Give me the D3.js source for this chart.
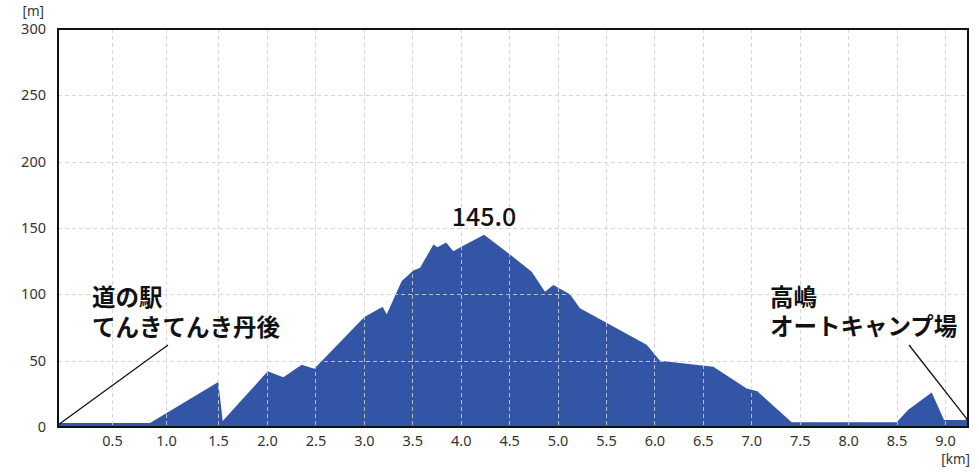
<!DOCTYPE html>
<html><head><meta charset="utf-8">
<script src="https://cdn.jsdelivr.net/npm/d3@7"></script>
<style>
html,body{margin:0;padding:0;background:#fff;}
svg{display:block;}
</style></head>
<body>
<svg id="chart" width="979" height="475"></svg>
<script>
// ---- data ----
const distanceKm = [0, 0.852, 1.503, 1.548, 2.007, 2.168, 2.358, 2.488, 3.005, 3.167, 3.195, 3.236, 3.391, 3.511, 3.580, 3.718, 3.759, 3.849, 3.924, 4.011, 4.241, 4.509, 4.733, 4.870, 4.956, 5.128, 5.231, 5.920, 6.057, 6.608, 6.953, 7.062, 7.417, 8.501, 8.621, 8.863, 8.990, 9.207, 9.238];
const elevationM = [3, 3, 34, 4.5, 42, 37.5, 47, 44, 83, 89.5, 90.5, 85, 110, 118, 120, 137.5, 135.5, 139, 132.5, 136, 145.0, 130, 117, 102, 107, 100, 89.5, 62, 50, 45.5, 29, 27, 3.5, 3.5, 13, 26, 5.3, 5.3, 7.5];
const xTickValues = [0.5, 1.0, 1.5, 2.0, 2.5, 3.0, 3.5, 4.0, 4.5, 5.0, 5.5, 6.0, 6.5, 7.0, 7.5, 8.0, 8.5, 9.0];
const xTickLabels = ["0.5","1.0","1.5","2.0","2.5","3.0","3.5","4.0","4.5","5.0","5.5","6.0","6.5","7.0","7.5","8.0","8.5","9.0"];
const yTickValues = [0, 50, 100, 150, 200, 250, 300];
const yTickLabels = ["0","50","100","150","200","250","300"];
const startLabel = ["道の駅", "てんきてんき丹後"];
const endLabel = ["高嶋", "オートキャンプ場"];
const peakLabel = "145.0";
const xUnit = "[km]", yUnit = "[m]";

// ---- layout ----
const L = 58, R = 968, T = 29, B = 427;
const W = R - L;
const svg = d3.select("#chart");

// x axis of the reference is slightly non-uniform near the start
const x = d3.scaleLinear()
  .domain([0, 0.5, 1.0, 1.5, 2.0, 9.0, d3.max(distanceKm)])
  .range([L, L + W * 0.0593, L + W * 0.1187, L + W * 0.1758, L + W * 0.2297, L + W * 0.9747, R]);
const y = d3.scaleLinear().domain([0, 300]).range([B, T]);

const data = distanceKm.map((d, i) => ({km: d, m: elevationM[i]}));

// area
const area = d3.area().x(d => x(d.km)).y0(y(0)).y1(d => y(d.m));
svg.append("path").datum(data).attr("d", area).attr("fill", "#3355a5");

// grid
const grid = svg.append("g").attr("stroke", "#cfcfcf").attr("stroke-width", 1).attr("stroke-dasharray", "4,3").attr("opacity", 0.85);
grid.selectAll("line.v").data(xTickValues).join("line")
  .attr("x1", d => Math.round(x(d)) + 0.5).attr("x2", d => Math.round(x(d)) + 0.5)
  .attr("y1", T).attr("y2", B);
grid.selectAll("line.h").data(yTickValues.filter(v => v > 0 && v < 300)).join("line")
  .attr("x1", L).attr("x2", R)
  .attr("y1", d => Math.round(y(d)) + 0.5).attr("y2", d => Math.round(y(d)) + 0.5);

// frame
svg.append("rect").attr("x", L).attr("y", T).attr("width", W).attr("height", B - T)
  .attr("fill", "none").attr("stroke", "#111").attr("stroke-width", 2);

// axes
const xAxis = d3.axisBottom(x).tickValues(xTickValues).tickFormat((d, i) => xTickLabels[i]).tickSize(0).tickPadding(9);
const gx = svg.append("g").attr("transform", `translate(0,${B})`).call(xAxis);
gx.select(".domain").remove();
gx.selectAll("text").attr("font-family", "'Noto Sans', sans-serif").attr("font-size", 14.5).attr("fill", "#333");

const yAxis = d3.axisLeft(y).tickValues(yTickValues).tickFormat((d, i) => yTickLabels[i]).tickSize(0).tickPadding(12);
const gy = svg.append("g").attr("transform", `translate(${L},0)`).call(yAxis);
gy.select(".domain").remove();
gy.selectAll("text").attr("font-family", "'Noto Sans', sans-serif").attr("font-size", 14.5).attr("fill", "#333");

svg.append("text").attr("x", 44).attr("y", 16).attr("text-anchor", "end")
  .attr("font-family", "'Noto Sans', sans-serif").attr("font-size", 13.5).attr("fill", "#333").text(yUnit);
svg.append("text").attr("x", 970).attr("y", 464).attr("text-anchor", "end")
  .attr("font-family", "'Noto Sans', sans-serif").attr("font-size", 13.5).attr("fill", "#333").text(xUnit);

// annotations
const jp = "'Noto Sans CJK JP', sans-serif";
const first = data[0], last = data[data.length - 1];
const peak = data.reduce((a, b) => (b.m > a.m ? b : a));

svg.append("line").attr("x1", x(first.km)).attr("y1", y(first.m) + 2).attr("x2", 168).attr("y2", 345)
  .attr("stroke", "#111").attr("stroke-width", 1.3);
svg.append("line").attr("x1", 909).attr("y1", 345).attr("x2", x(last.km) - 1).attr("y2", y(last.m) + 2)
  .attr("stroke", "#111").attr("stroke-width", 1.3);

const t1 = svg.append("text").attr("font-family", jp).attr("font-size", 23.5).attr("font-weight", 700).attr("fill", "#111");
t1.append("tspan").attr("x", 92).attr("y", 306).text(startLabel[0]);
t1.append("tspan").attr("x", 92).attr("y", 336).text(startLabel[1]);

const t2 = svg.append("text").attr("font-family", jp).attr("font-size", 23.5).attr("font-weight", 700).attr("fill", "#111");
t2.append("tspan").attr("x", 770).attr("y", 306).text(endLabel[0]);
t2.append("tspan").attr("x", 770).attr("y", 335).text(endLabel[1]);

svg.append("text").attr("x", x(peak.km)).attr("y", y(peak.m) - 9).attr("text-anchor", "middle")
  .attr("font-family", jp).attr("font-size", 25).attr("font-weight", 500).attr("fill", "#111").text(peakLabel);
</script>
</body></html>
